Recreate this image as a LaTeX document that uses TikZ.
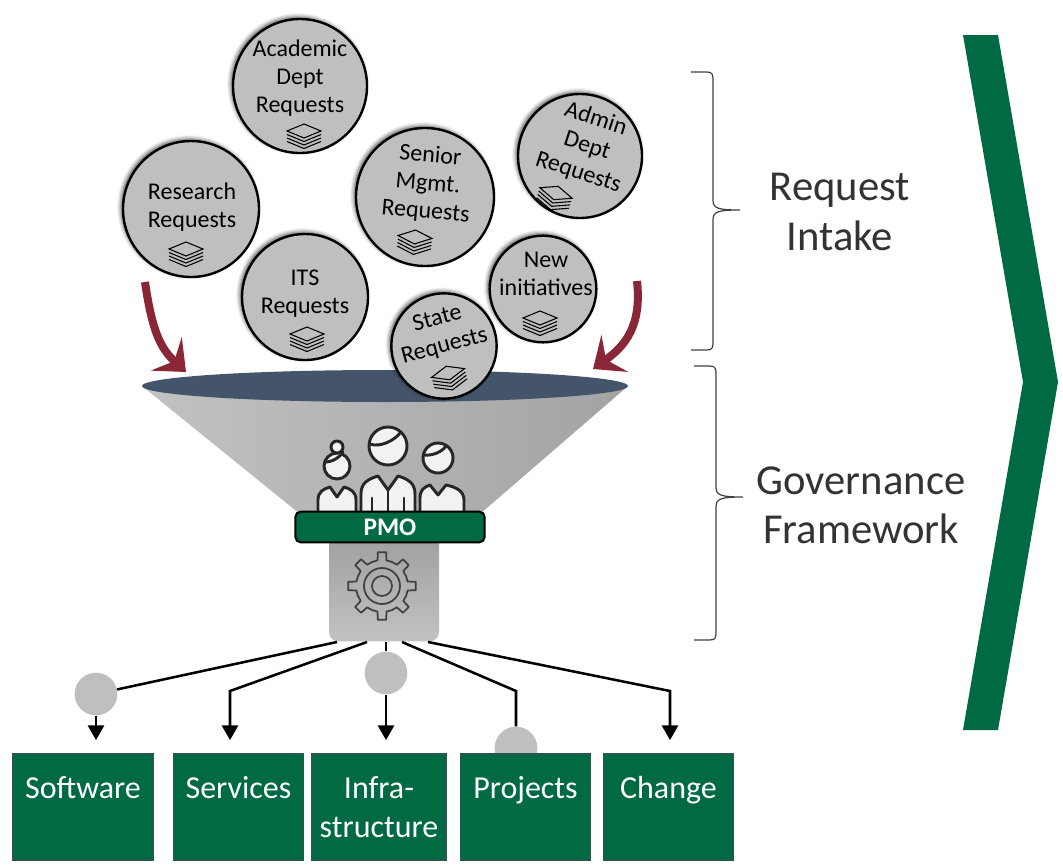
\documentclass[tikz,border=0pt]{standalone}
\usepackage{fontspec}
\setmainfont{Carlito}
\usetikzlibrary{positioning, arrows.meta, shadows.blur}

\definecolor{pmogreen}{RGB}{0,106,67}
\definecolor{reqgray}{RGB}{191,191,191}
\definecolor{rimblue}{RGB}{68,84,106}
\definecolor{intakered}{RGB}{139,38,54}
\definecolor{boxedge}{RGB}{38,88,82}

\tikzset{
  papers/.pic={
    \draw[line width=0.8pt, fill=reqgray] (-17,0) -- (0,-7) -- (17,0) -- (0,7) -- cycle;
    \foreach \k in {1,2,3}
      \draw[line width=0.8pt] (-17,\k*3.5) -- (0,7+\k*3.5) -- (17,\k*3.5);
  }
}

\begin{document}
\begin{tikzpicture}[x=0.75pt, y=-0.75pt,
    req/.style={circle, draw, line width=1.8pt, fill=reqgray, inner sep=0pt,
      blur shadow={shadow xshift=-1.5pt, shadow yshift=1.5pt, shadow blur radius=3pt, shadow opacity=70}},
    reqtxt/.style={align=center, inner sep=0pt, font=\fontsize{18}{21}\selectfont},
    outbox/.style={draw=boxedge, line width=0.8pt, fill=pmogreen, text=white, align=center,
      minimum height=79.5pt, inner sep=0pt, font=\fontsize{24}{29}\selectfont},
    outdot/.style={circle, fill=reqgray, minimum size=32pt, inner sep=0pt},
    feed/.style={line width=1.9pt},
    feedarrow/.style={feed, -{Triangle[length=11pt, width=12pt]}, shorten >=10pt},
    pull/.style={intakered, line width=6pt, -{Stealth[length=20pt, width=34pt, inset=8pt]}},
    sidelabel/.style={align=center, text=black!80, font=\fontsize{32}{37}\selectfont},
    person/.style={line width=2.2pt, line join=round, line cap=round, draw=black!85, fill=black!5},
    gearline/.style={line width=1.3pt, draw=black!75, line join=round},
    sidebrace/.style={line width=0.9pt, draw=black!75}]
  \useasboundingbox (0,0) rectangle (1063,864);

  % chevron and the two phase braces on the right
  \fill[pmogreen] (963,35) -- (998,35) -- (1058,382) -- (998,730) -- (963,730) -- (1023,382) -- cycle;
  \foreach \top/\mid/\bot/\xa in {72/210/350/691, 366/497/640/694} {
    \draw[sidebrace] (\xa,\top) -- (\xa+16,\top) .. controls (\xa+22,\top) and (\xa+22,\top+3) .. (\xa+22,\top+10)
      -- (\xa+22,\mid-10) .. controls (\xa+22,\mid-2) and (\xa+26,\mid) .. (\xa+49,\mid)
      .. controls (\xa+26,\mid) and (\xa+22,\mid+2) .. (\xa+22,\mid+10)
      -- (\xa+22,\bot-10) .. controls (\xa+22,\bot-3) and (\xa+22,\bot) .. (\xa+16,\bot) -- (\xa,\bot);
  }
  \node[sidelabel] (intake) at (840,212) {Request\\Intake};
  \node[sidelabel] (govern) at (861,505) {Governance\\Framework};

  % funnel body and rim
  \shade[left color=black!24, middle color=black!3, right color=black!36]
    (142,386) -- (300,514) -- (480,514) -- (628,386) -- cycle;
  \fill[rimblue] (385,386) ellipse[x radius=243, y radius=16];

  % incoming requests
  \node[req, minimum size=100.5pt] (acad) at (300,86) {};
  \node[reqtxt] (acad-t) at (300,78) {Academic\\Dept\\Requests};
  \pic at (304,131) {papers};

  \node[req, minimum size=102pt] (research) at (191,209) {};
  \node[reqtxt] (research-t) at (192,207) {Research\\Requests};
  \pic at (186,249) {papers};

  \node[req, minimum size=103.5pt] (senior) at (425,197) {};
  \node[reqtxt, rotate=-5] (senior-t) at (428,184) {Senior\\Mgmt.\\Requests};
  \pic[rotate=-5] at (415,237) {papers};

  \node[req, minimum size=93pt] (admin) at (580,156) {};
  \node[reqtxt, rotate=-18] (admin-t) at (587,146) {Admin\\Dept\\Requests};
  \pic[rotate=-18] at (556,193) {papers};

  \node[req, minimum size=94.5pt] (its) at (305,297) {};
  \node[reqtxt] (its-t) at (305,294) {ITS\\Requests};
  \pic at (307,334) {papers};

  \node[req, minimum size=80pt] (newinit) at (543,289) {};
  \node[reqtxt] (newinit-t) at (546,274) {New\\initiatives};
  \pic at (540,318) {papers};

  \node[req, minimum size=79pt] (state) at (444,346) {};
  \node[reqtxt, rotate=15] (state-t) at (441,333) {State\\Requests};
  \pic[rotate=15] at (448,373) {papers};

  % red arrows into the rim
  \draw[pull] (145,282) .. controls (152,330) and (160,348) .. (186,372);
  \draw[pull] (637,281) .. controls (642,326) and (625,346) .. (593,369);

  % funnel spout with the gear
  \node[rounded corners=7pt, top color=black!40, bottom color=black!24,
    minimum width=82.5pt, minimum height=95pt] (stem) at (384,578) {};
  \begin{scope}[shift={(382,586)}]
    \draw[gearline] (-10:26) \foreach \a in {0,45,...,315} {
      -- (\a-10:26) -- (\a-7:34) -- (\a+7:34) -- (\a+10:26) arc[start angle=\a+10, end angle=\a+35, radius=26]} -- cycle;
    \draw[gearline] (0,0) circle[radius=18];
    \draw[gearline] (0,0) circle[radius=10];
  \end{scope}

  % PMO team
  \draw[person] (318,511) -- (318,500) .. controls (318,492) and (323,489) .. (330,487) -- (337,497)
    -- (344,487) .. controls (351,489) and (356,492) .. (356,500) -- (356,511);
  \draw[person] (337,466) circle[radius=13];
  \draw[person] (337,447) circle[radius=6];
  \draw[person] (325,462) .. controls (333,462) and (340,457) .. (343,452);
  \draw[person] (420,511) -- (420,498) .. controls (420,490) and (424,487) .. (430,485) -- (438,495)
    -- (446,485) .. controls (456,487) and (464,491) .. (464,500) -- (464,511);
  \draw[person] (438,458) circle[radius=15];
  \draw[person] (424,455) .. controls (432,456) and (442,452) .. (446,446);
  \draw[person] (361,511) -- (361,494) .. controls (361,483) and (368,479) .. (378,476) -- (388,490)
    -- (398,476) .. controls (408,479) and (415,483) .. (415,494) -- (415,511);
  \draw[person] (372,498) -- (372,511);
  \draw[person] (404,498) -- (404,511);
  \draw[person] (388,490) -- (388,511);
  \draw[person] (388,446) circle[radius=19];
  \draw[person] (370,444) .. controls (380,448) and (395,440) .. (400,433);
  \node[draw, line width=1.5pt, rounded corners=4pt, fill=pmogreen, text=white, minimum width=142pt,
    minimum height=23pt, inner sep=0pt, font=\bfseries\fontsize{19}{19}\selectfont] (pmo) at (390,527) {PMO};

  % outputs of the funnel
  \coordinate (o1) at (337,642);
  \coordinate (o2) at (367,642);
  \coordinate (o3) at (386,642);
  \coordinate (o4) at (402,642);
  \coordinate (o5) at (428,642);
  \coordinate (c2) at (230,691);
  \coordinate (c4) at (516,691);
  \coordinate (c5) at (670,691);
  \node[outdot] (d4) at (516,748) {};
  \draw[feed] (o4) -- (c4) -- (d4);

  \node[outbox, minimum width=105pt] (sw) at (83,807) {Software\\\mbox{}};
  \node[outbox, minimum width=97pt] (svc) at (238.5,807) {Services\\\mbox{}};
  \node[outbox, minimum width=100.5pt] (infra) at (379,807) {Infra-\\structure};
  \node[outbox, minimum width=97pt] (proj) at (525.5,807) {Projects\\\mbox{}};
  \node[outbox, minimum width=97pt] (chg) at (668.5,807) {Change\\\mbox{}};

  \node[outdot] (d1) at (96,694) {};
  \node[outdot] (d3) at (386,673) {};
  \draw[feed] (o1) -- (d1);
  \draw[feedarrow] (d1) -- (d1 |- sw.north);
  \draw[feedarrow] (o2) -- (c2) -- (c2 |- svc.north);
  \draw[feed] (o3) -- (d3);
  \draw[feedarrow] (d3) -- (d3 |- infra.north);
  \draw[feedarrow] (o5) -- (c5) -- (c5 |- chg.north);
\end{tikzpicture}
\end{document}
